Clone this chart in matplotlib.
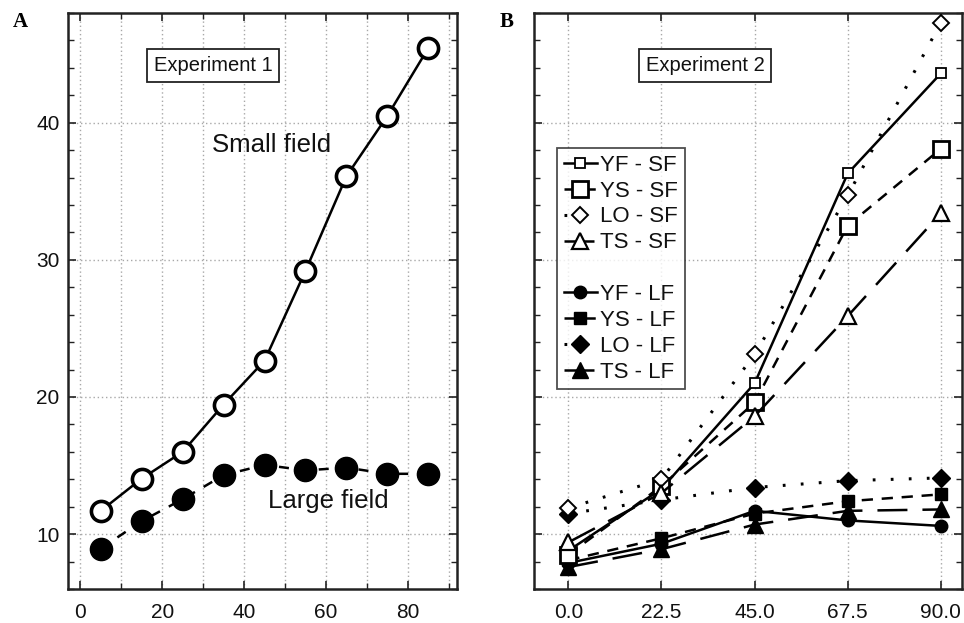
import matplotlib
matplotlib.use("Agg")
import matplotlib.pyplot as plt
from matplotlib.lines import Line2D
from matplotlib.ticker import MultipleLocator, FixedLocator, NullFormatter

plt.rcParams['font.family'] = ['Liberation Sans', 'DejaVu Sans']

# ---------------- data ----------------
# Panel A (Experiment 1)
exp1_x = [5, 15, 25, 35, 45, 55, 65, 75, 85]
small_field = [11.7, 14.05, 16.0, 19.45, 22.65, 29.2, 36.1, 40.5, 45.45]
large_field = [8.95, 10.95, 12.55, 14.3, 15.05, 14.65, 14.85, 14.4, 14.4]

# Panel B (Experiment 2)
exp2_x = [0.0, 22.5, 45.0, 67.5, 90.0]
yf_sf = [8.8, 13.3, 21.0, 36.3, 43.6]
ys_sf = [8.5, 13.5, 19.6, 32.5, 38.1]
lo_sf = [11.9, 14.0, 23.1, 34.7, 47.3]
ts_sf = [9.4, 13.0, 18.6, 25.9, 33.4]
yf_lf = [7.9, 9.3, 11.7, 11.0, 10.6]
ys_lf = [8.1, 9.7, 11.5, 12.4, 12.9]
lo_lf = [11.5, 12.5, 13.4, 13.9, 14.1]
ts_lf = [7.6, 8.9, 10.7, 11.7, 11.8]

x_ticks_a = [0, 20, 40, 60, 80]
x_ticks_b = [0.0, 22.5, 45.0, 67.5, 90.0]
y_ticks = [10, 20, 30, 40]

W, H = 964, 623
fig = plt.figure(figsize=(W / 100, H / 100), dpi=100)

def px_axes(l, t, r, b):
    return fig.add_axes([l / W, 1 - b / H, (r - l) / W, (b - t) / H])

axA = px_axes(68, 13, 457, 589)
axB = px_axes(534, 13, 962, 589)

grid_kw = dict(color='#a8a8a8', linestyle=(0, (1, 2)), linewidth=1.0)
text_color = '#111111'

for ax in (axA, axB):
    ax.set_ylim(6, 48)
    for s in ax.spines.values():
        s.set_linewidth(1.8)
        s.set_color('#222222')
    ax.yaxis.set_major_locator(FixedLocator(y_ticks))
    ax.yaxis.set_minor_locator(MultipleLocator(2))
    ax.tick_params(which='both', direction='in', top=True, right=True,
                   colors='#222222', labelcolor=text_color, labelsize=15)
    ax.tick_params(which='major', length=6, width=1.2)
    ax.tick_params(which='minor', length=4, width=1.0)
    ax.grid(True, which='major', axis='y', **grid_kw)
    ax.set_axisbelow(True)

# ---------------- Panel A ----------------
axA.set_xlim(-3, 92)
axA.xaxis.set_major_locator(FixedLocator(x_ticks_a))
axA.xaxis.set_minor_locator(MultipleLocator(10))
axA.grid(True, which='both', axis='x', **grid_kw)
axA.tick_params(axis='x', pad=10)
axA.tick_params(axis='y', pad=6)

axA.plot(exp1_x, large_field, color='black', linewidth=1.8,
         linestyle=(0, (4, 4)), marker='o', markersize=16,
         markerfacecolor='black', markeredgecolor='black', zorder=3)
axA.plot(exp1_x, small_field, color='black', linewidth=1.8,
         linestyle='-', marker='o', markersize=14.5,
         markerfacecolor='white', markeredgecolor='black',
         markeredgewidth=2.6, zorder=4)

box_kw = dict(boxstyle='square,pad=0.35', facecolor='white',
              edgecolor='#222222', linewidth=1.3)
axA.text(32.4, 44.2, 'Experiment 1', fontsize=14.5, ha='center', va='center',
         color=text_color, bbox=box_kw, zorder=6)
axA.text(46.8, 38.4, 'Small field', fontsize=18.5, ha='center', va='center',
         color=text_color, zorder=6)
axA.text(60.5, 12.4, 'Large field', fontsize=18.5, ha='center', va='center',
         color=text_color, zorder=6)

# ---------------- Panel B ----------------
axB.set_xlim(-8.3, 95.1)
axB.xaxis.set_major_locator(FixedLocator(x_ticks_b))
axB.xaxis.set_major_formatter(matplotlib.ticker.FormatStrFormatter('%.1f'))
axB.grid(True, which='major', axis='x', **grid_kw)
axB.tick_params(axis='x', pad=10)
axB.tick_params(axis='y', which='both', labelleft=False)

solid = '-'
dashed = (0, (4.5, 3.5))
dotted = (0, (0.9, 5))
longdash = (0, (12, 6))

series = [
    ('YF - SF', yf_sf, solid, 's', 6.5, 'white', 1.3),
    ('YS - SF', ys_sf, dashed, 's', 11, 'white', 2.0),
    ('LO - SF', lo_sf, dotted, 'D', 8.5, 'white', 1.4),
    ('TS - SF', ts_sf, longdash, '^', 12, 'white', 1.6),
    ('YF - LF', yf_lf, solid, 'o', 9, 'black', 1.0),
    ('YS - LF', ys_lf, dashed, 's', 8.5, 'black', 1.0),
    ('LO - LF', lo_lf, dotted, 'D', 9.5, 'black', 1.0),
    ('TS - LF', ts_lf, longdash, '^', 11, 'black', 1.0),
]

handles = []
labels = []
for i, (lab, ys, ls, mk, ms, fc, mew) in enumerate(series):
    lw = 2.2 if ls == dotted else 1.8
    line, = axB.plot(exp2_x, ys, color='black', linestyle=ls, linewidth=lw,
                     marker=mk, markersize=ms, markerfacecolor=fc,
                     markeredgecolor='black', markeredgewidth=mew,
                     zorder=4 if fc == 'white' else 3, label=lab)
    handles.append(line)
    labels.append(lab)
    if i == 3:
        handles.append(Line2D([], [], color='none'))
        labels.append(' ')

axB.text(33.0, 44.2, 'Experiment 2', fontsize=14.5, ha='center', va='center',
         color=text_color, bbox=box_kw, zorder=6)

leg = axB.legend(handles, labels, loc='upper left',
                 bbox_to_anchor=((557 - 534) / (962 - 534), (589 - 148) / (589 - 13)),
                 borderaxespad=0, frameon=True, fancybox=False,
                 fontsize=16, handlelength=1.5, handletextpad=0.15,
                 labelspacing=0.22, borderpad=0.3, numpoints=1,
                 labelcolor=text_color)
leg.get_frame().set_edgecolor('#222222')
leg.get_frame().set_linewidth(1.3)
leg.set_zorder(7)

# panel letters
fig.text(20 / W, 1 - 22 / H, 'A', fontsize=15, fontweight='bold',
         family=['Liberation Serif', 'DejaVu Serif'], ha='center', va='center')
fig.text(507 / W, 1 - 22 / H, 'B', fontsize=15, fontweight='bold',
         family=['Liberation Serif', 'DejaVu Serif'], ha='center', va='center')

fig.savefig('out.png', dpi=100)
